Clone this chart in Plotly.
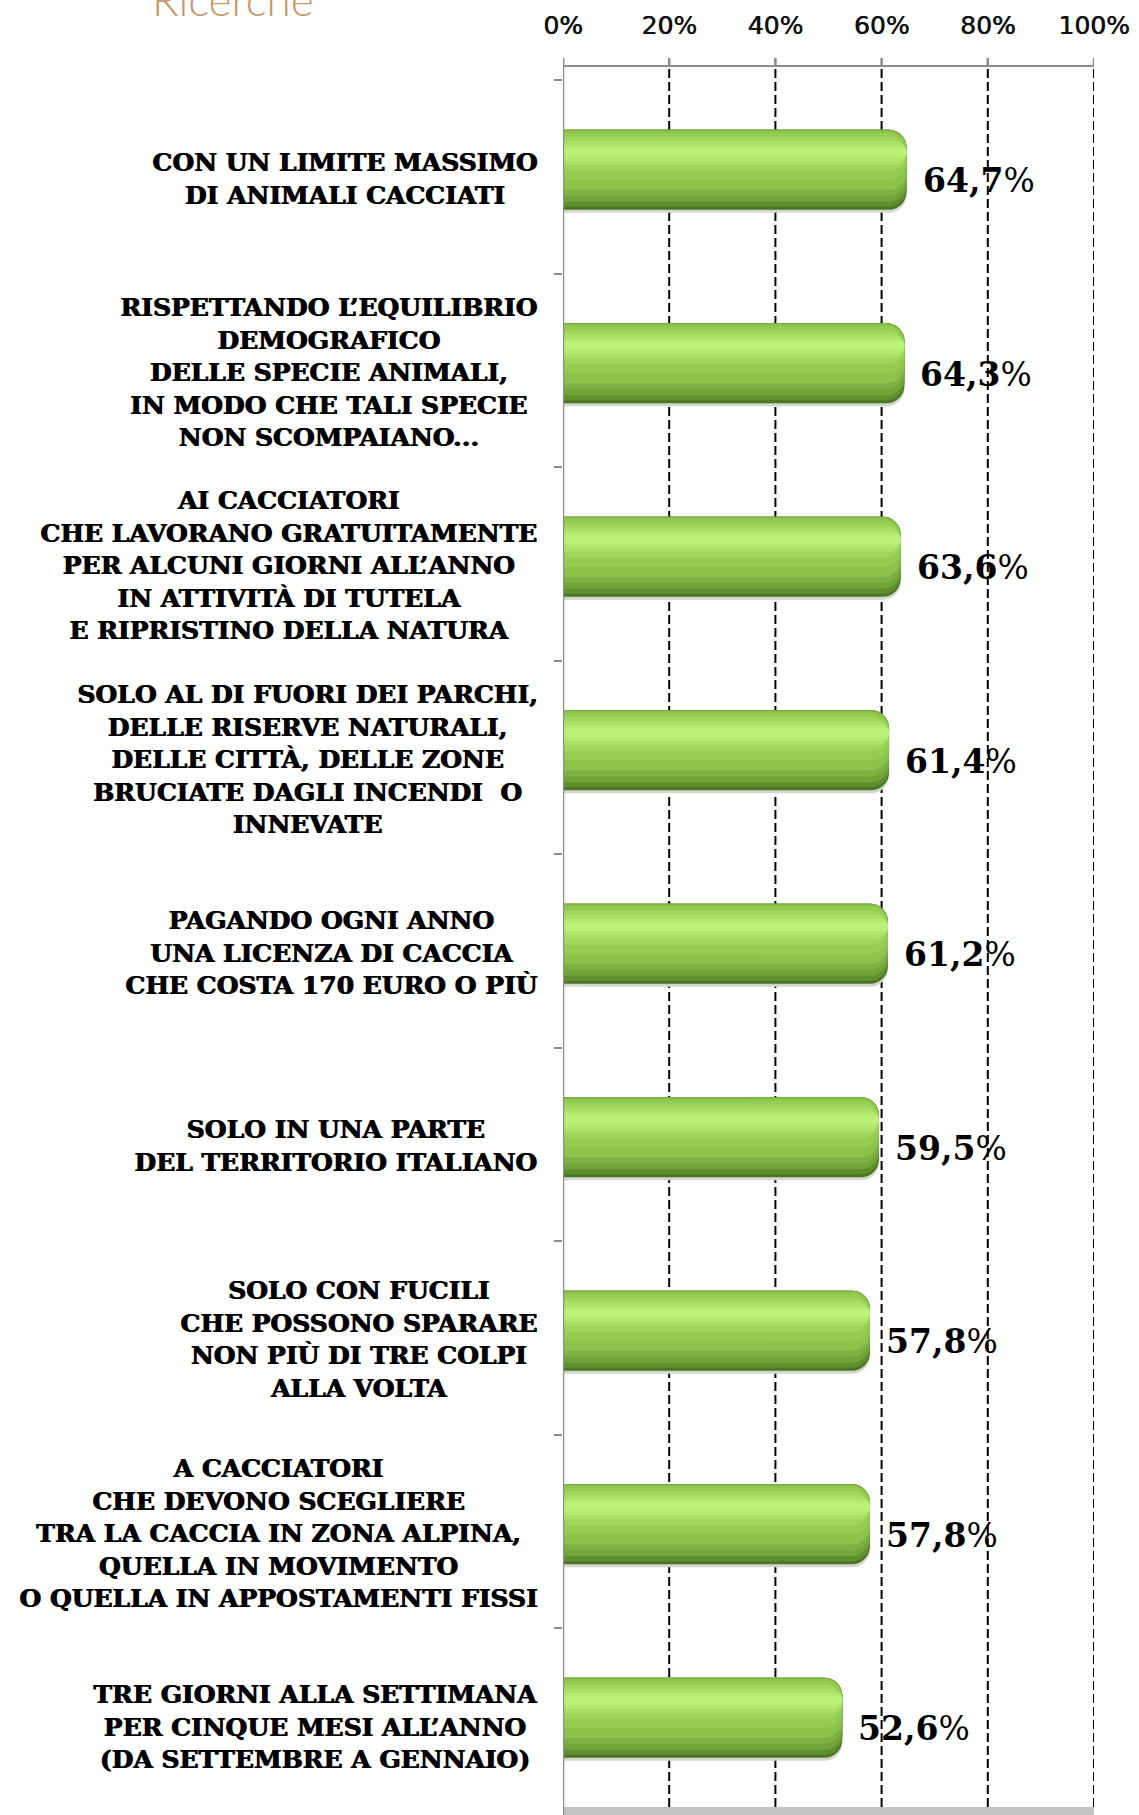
import plotly.graph_objects as go

# ---------------- data ----------------
categories = [
    "CON UN LIMITE MASSIMO<br>DI ANIMALI CACCIATI",
    "RISPETTANDO L\u2019EQUILIBRIO<br>DEMOGRAFICO<br>DELLE SPECIE ANIMALI,<br>IN MODO CHE TALI SPECIE<br>NON SCOMPAIANO...",
    "AI CACCIATORI<br>CHE LAVORANO GRATUITAMENTE<br>PER ALCUNI GIORNI ALL\u2019ANNO<br>IN ATTIVIT\u00c0 DI TUTELA<br>E RIPRISTINO DELLA NATURA",
    "SOLO AL DI FUORI DEI PARCHI,<br>DELLE RISERVE NATURALI,<br>DELLE CITT\u00c0, DELLE ZONE<br>BRUCIATE DAGLI INCENDI  O<br>INNEVATE",
    "PAGANDO OGNI ANNO<br>UNA LICENZA DI CACCIA<br>CHE COSTA 170 EURO O PI\u00d9",
    "SOLO IN UNA PARTE<br>DEL TERRITORIO ITALIANO",
    "SOLO CON FUCILI<br>CHE POSSONO SPARARE<br>NON PI\u00d9 DI TRE COLPI<br>ALLA VOLTA",
    "A CACCIATORI<br>CHE DEVONO SCEGLIERE<br>TRA LA CACCIA IN ZONA ALPINA,<br>QUELLA IN MOVIMENTO<br>O QUELLA IN APPOSTAMENTI FISSI",
    "TRE GIORNI ALLA SETTIMANA<br>PER CINQUE MESI ALL\u2019ANNO<br>(DA SETTEMBRE A GENNAIO)",
]
values = [64.7, 64.3, 63.6, 61.4, 61.2, 59.5, 57.8, 57.8, 52.6]
x_ticks = [0, 20, 40, 60, 80, 100]
x_ticklabels = ["0%", "20%", "40%", "60%", "80%", "100%"]

# ---------------- geometry ----------------
W, H = 1139, 1815
M_L, M_R, M_T, M_B = 563, 45, 80, 0
PLOT_H = H - M_T - M_B
n = len(categories)
idx = list(range(n))
UNIT = 193.5                      # px per category
y_top, y_bot = -0.5, -0.5 + PLOT_H / UNIT


def py(p):
    """pixel row -> paper y"""
    return (H - M_B - p) / PLOT_H


fig = go.Figure()

BAR_PX = 80
SHIFT = 7 / UNIT
# nested bands (top px, bottom px, colour) relative to bar top -> fake cylinder shading
layers = [
    (4, 83, "#d2d8cc"),
    (0, 80, "#4c7524"),
    (0, 77, "#5f8f2e"),
    (0, 72, "#72a538"),
    (0, 66, "#7fb044"),
    (1, 60, "#8cc34b"),
    (3, 50, "#95cd53"),
    (7, 41, "#9fd75c"),
    (11, 35, "#a9e166"),
    (15, 31, "#b2ea6f"),
    (18, 27, "#baf278"),
]
for (a, b, col) in layers:
    off = -SHIFT - (BAR_PX / 2) / UNIT + a / UNIT
    wid = (b - a) / UNIT
    rad = min(18, (b - a) / 2)
    fig.add_trace(go.Bar(
        orientation="h", y=idx, x=values,
        width=wid, offset=off,
        marker=dict(color=col, line=dict(width=0), cornerradius=rad),
        hoverinfo="skip", showlegend=False,
    ))

shapes = []
AX_COL = "#8c8c8c"
top_ax = py(66)
# dashed gridlines
for t in x_ticks[1:]:
    shapes.append(dict(type="line", xref="x", yref="paper", x0=t, x1=t,
                       y0=py(1807), y1=top_ax, layer="below",
                       line=dict(color="#000000", width=2, dash="9px,4px")))
# top axis line and ticks
shapes.append(dict(type="line", xref="x", yref="paper", x0=0, x1=100,
                   y0=top_ax, y1=top_ax, line=dict(color=AX_COL, width=2)))
for t in x_ticks:
    shapes.append(dict(type="line", xref="x", yref="paper", x0=t, x1=t,
                       y0=top_ax, y1=py(58), line=dict(color=AX_COL, width=2.5)))
# left axis line
shapes.append(dict(type="line", xref="x", yref="paper", x0=0, x1=0,
                   y0=0, y1=py(58), line=dict(color=AX_COL, width=2.5)))
# grey floor strip
shapes.append(dict(type="rect", xref="x", yref="paper", x0=0, x1=100,
                   y0=0, y1=py(1807), line=dict(width=0),
                   fillcolor="#c3c3c3", layer="below"))

annotations = []
for i, (c, v) in enumerate(zip(categories, values)):
    annotations.append(dict(
        x=-0.046, xref="paper", y=i + 0.01, yref="y",
        xanchor="right", yanchor="middle", align="center",
        text=c, showarrow=False,
        font=dict(family="DejaVu Serif", size=25, color="#000000", weight="bold",
                  shadow="1px 0px 0px #000000"),
    ))
    lab = f"{v:.1f}".replace(".", ",")
    annotations.append(dict(
        x=v, xref="x", y=i + 0.02, yref="y", xshift=14,
        xanchor="left", yanchor="middle",
        text=f"<b>{lab}</b>%", showarrow=False,
        font=dict(family="DejaVu Serif", size=33, color="#000000"),
    ))
# logo text (cut at the top of the page, as in the original)
annotations.append(dict(
    x=(150 - M_L) / (W - M_L - M_R), xref="paper", y=py(27), yref="paper",
    xanchor="left", yanchor="bottom", text="Ricerche", showarrow=False,
    font=dict(family="Lato", size=44, color="#c49868", weight=300),
))

fig.update_layout(
    width=W, height=H,
    margin=dict(l=M_L, r=M_R, t=M_T, b=M_B, pad=0),
    paper_bgcolor="white", plot_bgcolor="white",
    barmode="overlay",
    showlegend=False,
    shapes=shapes,
    annotations=annotations,
    xaxis=dict(
        range=[0, 100], side="top", tickvals=x_ticks, ticktext=x_ticklabels,
        showgrid=False, zeroline=False, showline=False, ticks="",
        ticklabelstandoff=40,
        tickfont=dict(family="DejaVu Sans", size=25, color="#111111",
                      shadow="0.6px 0px 0px #111111"),
        fixedrange=True,
    ),
    yaxis=dict(
        range=[y_bot, y_top], showgrid=False, zeroline=False, showline=False,
        tickvals=[k - 0.5 for k in range(n)], ticks="outside", ticklen=8,
        tickwidth=2, tickcolor=AX_COL, showticklabels=False, fixedrange=True,
    ),
)

fig.write_html("out.html",
               config={"displayModeBar": False, "staticPlot": True},
               post_script="document.body.style.margin='0';document.body.style.overflow='hidden';")
